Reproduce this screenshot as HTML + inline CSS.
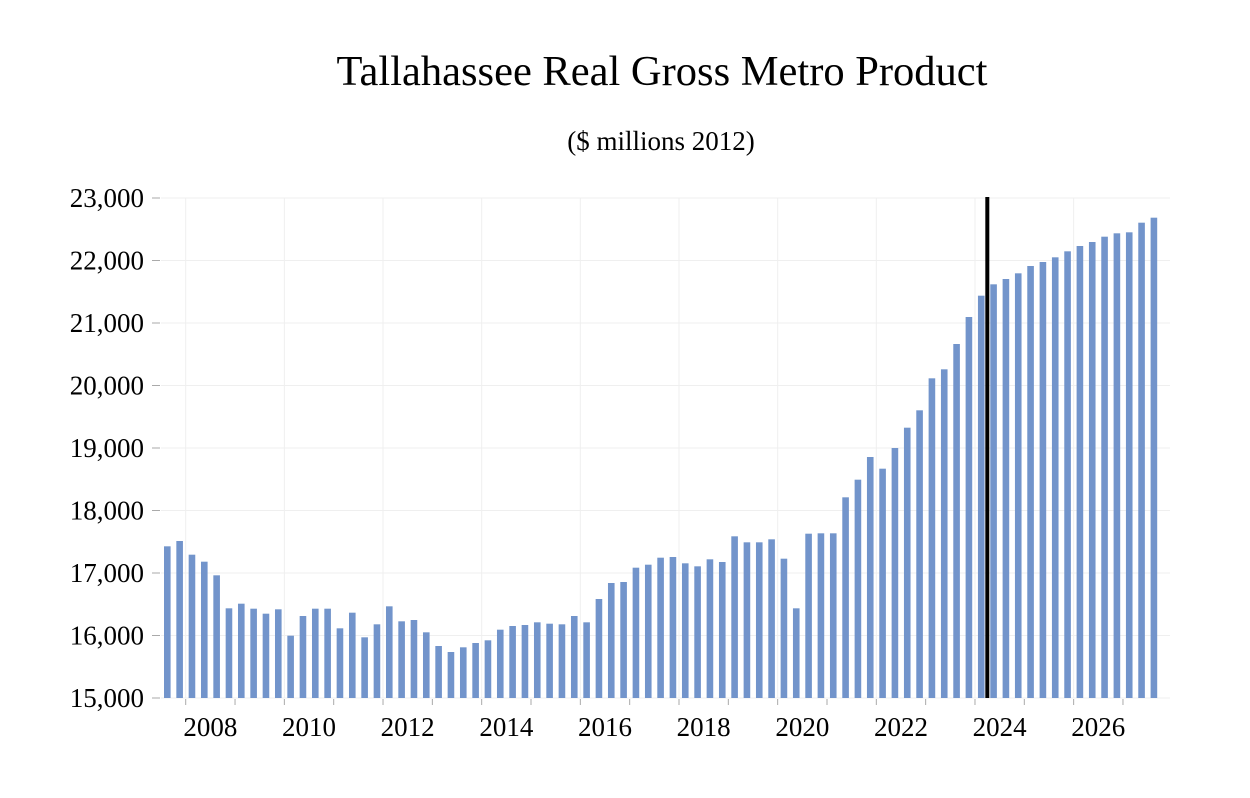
<!DOCTYPE html>
<html><head><meta charset="utf-8"><style>
html,body{margin:0;padding:0;background:#fff;}
svg{display:block;font-family:"Liberation Serif",serif;}
</style></head><body>
<svg id="chart" width="1250" height="798" viewBox="0 0 1250 798">
<text x="662" y="85" font-size="42.5" text-anchor="middle" fill="#000">Tallahassee Real Gross Metro Product</text>
<text x="661" y="150" font-size="27" text-anchor="middle" fill="#000">($ millions 2012)</text>
<g id="grid"></g><g id="bars"></g><g id="axes"></g>
</svg>
<script>
const values = [17427,17512,17293,17181,16963,16435,16509,16429,16349,16419,15997,16312,16429,16429,16115,16365,15971,16179,16467,16227,16248,16051,15832,15736,15811,15880,15923,16093,16152,16168,16211,16189,16179,16312,16211,16584,16840,16856,17085,17133,17245,17256,17155,17107,17219,17176,17587,17491,17491,17539,17229,16435,17629,17635,17635,18211,18493,18856,18669,19000,19325,19603,20115,20259,20664,21096,21437,21619,21704,21795,21912,21976,22051,22147,22232,22296,22381,22435,22451,22605,22685];
const startYear = 2007.5;
const yTicks = [15000,16000,17000,18000,19000,20000,21000,22000,23000];
const xLabels = [2008,2010,2012,2014,2016,2018,2020,2022,2024,2026];
const forecastStart = 2024.25;

const NS="http://www.w3.org/2000/svg";
const yMin=15000,yMax=23000,yBot=698,yTop=198;
function y(v){return yBot-(v-yMin)/(yMax-yMin)*(yBot-yTop);}
const yearPx=49.33, x2008=185.7;
function x(t){return x2008+(t-2008)*yearPx;}
function mk(tag,attrs,parent){const e=document.createElementNS(NS,tag);for(const k in attrs)e.setAttribute(k,attrs[k]);parent.appendChild(e);return e;}
const grid=document.getElementById('grid'),bars=document.getElementById('bars'),axes=document.getElementById('axes');
yTicks.forEach(v=>{
  const l=mk('line',{x1:161,x2:1170,y1:y(v),y2:y(v),stroke:'#efefef','stroke-width':1},grid);
  
  
  const t=mk('line',{x1:152,x2:160,y1:y(v),y2:y(v),stroke:'#aaa','stroke-width':1},axes);
  
  
  const tx=mk('text',{x:144,y:y(v)+9,'font-size':27,'text-anchor':'end',fill:'#000'},axes);
  tx.textContent=v.toLocaleString('en-US');
  
  
});
xLabels.forEach(yr=>{
  const g=mk('line',{x1:x(yr),x2:x(yr),y1:yTop,y2:yBot,stroke:'#efefef','stroke-width':1},grid);
  
  
  const tx=mk('text',{x:x(yr+0.5),y:736,'font-size':27,'text-anchor':'middle',fill:'#000'},axes);
  tx.textContent=yr;
  
  
});
for(let yr=2008;yr<=2027;yr++){
  const t=mk('line',{x1:x(yr),x2:x(yr),y1:699,y2:705,stroke:'#aaa','stroke-width':1},axes);
  
  
}
values.forEach((v,i)=>{
  const cx=x(startYear+i*0.25+0.125);
  const r=mk('rect',{x:cx-3.2,y:y(v),width:6.6,height:yBot-y(v),fill:'#7294cb'},bars);
  
  
});
const fl=mk('line',{x1:x(forecastStart),x2:x(forecastStart),y1:197,y2:698,stroke:'#000','stroke-width':4},axes);


</script>
</body></html>
